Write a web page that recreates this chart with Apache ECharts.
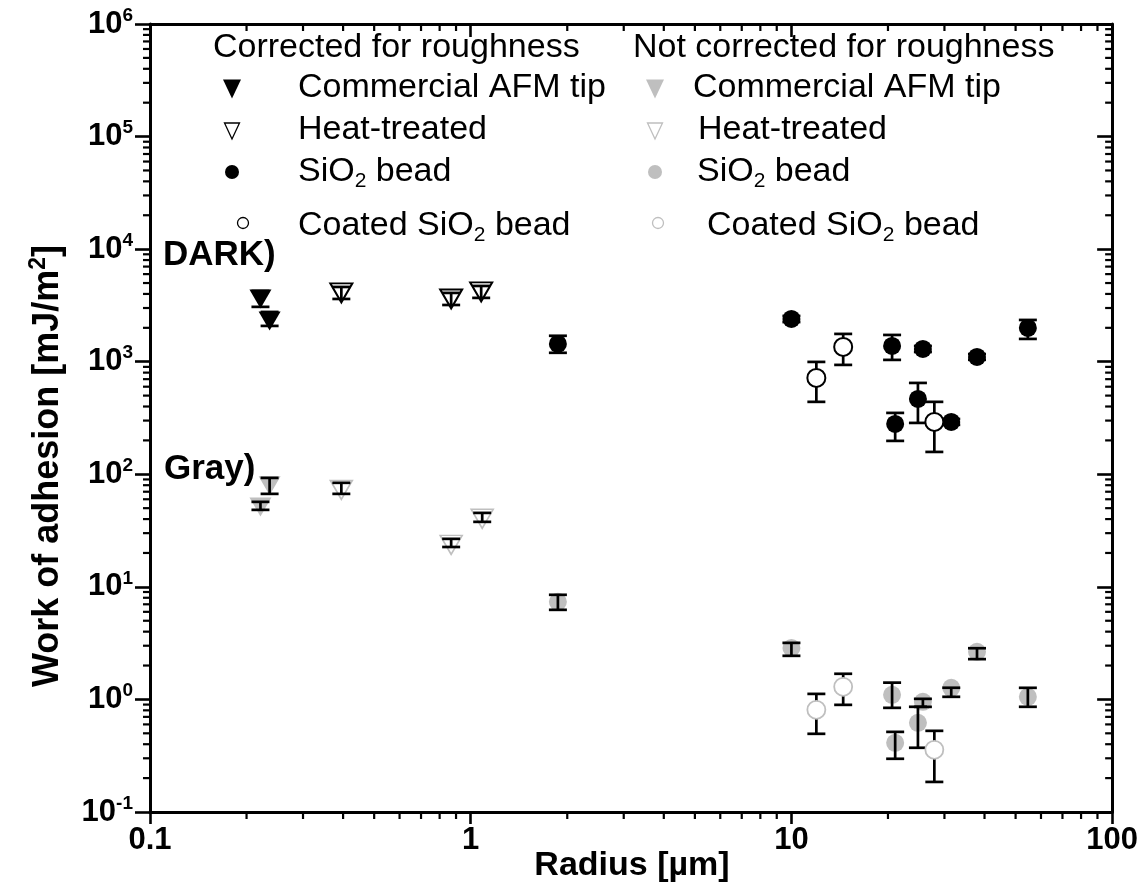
<!DOCTYPE html>
<html><head><meta charset="utf-8">
<script src="https://cdn.jsdelivr.net/npm/echarts@6/dist/echarts.min.js"></script>
<style>html,body{margin:0;padding:0;background:#fff}#c{width:1141px;height:892px}</style>
</head><body><div id="c"></div>
<script>
// ---- data: [radius (µm), work of adhesion (mJ/m²), error low, error high] ----
const corrAfm    = [[0.221, 3610, 3071, 4254], [0.236, 2303, 2080, 2768]];
const corrHeat   = [[0.395, 4085, 3610, 4614], [0.869, 3610, 3191, 4085], [1.078, 4170, 3690, 4710]];
const corrSiO2   = [[1.87, 1439, 1200, 1700], [10.0, 2399, 2250, 2550], [20.6, 1381, 1038, 1729],
                    [25.7, 1300, 1220, 1380], [37.9, 1103, 1040, 1170], [54.6, 1995, 1594, 2350],
                    [21.06, 280, 198, 351], [24.8, 467, 286, 648], [31.5, 292, 275, 310]];
const corrCoated = [[11.96, 718, 440, 996], [14.5, 1353, 937, 1766], [27.9, 292, 158, 440]];
const rawAfm     = [[0.221, 51.3, 48.3, 56.9], [0.236, 78.9, 67, 92.9]];
const rawHeat    = [[0.395, 72.7, 67, 84], [0.869, 23.6, 22.6, 26.7], [1.086, 40.2, 37.8, 45.4]];
const rawSiO2    = [[1.87, 7.36, 6.25, 8.5], [10.0, 2.87, 2.44, 3.18], [20.6, 1.099, 0.842, 1.41],
                    [25.7, 0.952, 0.859, 1.012], [37.9, 2.65, 2.28, 2.85], [54.6, 1.055, 0.86, 1.268],
                    [21.06, 0.412, 0.297, 0.515], [24.8, 0.62, 0.372, 0.86], [31.5, 1.268, 1.055, 1.27]];
const rawCoated  = [[11.96, 0.809, 0.495, 1.12], [14.5, 1.294, 0.895, 1.69], [27.9, 0.357, 0.185, 0.526]];

const xTicks = [0.1, 1, 10, 100];
const xTickLabels = ['0.1', '1', '10', '100'];
const yTicks = [0.1, 1, 10, 100, 1000, 10000, 100000, 1000000];
const yTickExp = ['-1', '0', '1', '2', '3', '4', '5', '6'];
const minorMult = [2, 3, 4, 5, 6, 7, 8, 9];

const legendLeftTitle = 'Corrected for roughness';
const legendRightTitle = 'Not corrected for roughness';
const legendNames = ['Commercial AFM tip', 'Heat-treated', 'SiO{sub|2} bead', 'Coated SiO{sub|2} bead'];

const FONT = "'Liberation Sans', Arial, Helvetica, sans-serif";
const GRAY = '#bfbfbf';

const minorXs = [], minorYs = [];
for (let i = 0; i < xTicks.length - 1; i++) minorMult.forEach(m => minorXs.push([xTicks[i] * m, 1]));
for (let i = 0; i < yTicks.length - 1; i++) minorMult.forEach(m => minorYs.push([1, yTicks[i] * m]));

const chart = echarts.init(document.getElementById('c'), null, {renderer: 'canvas'});

function errRender(params, api) {
  const x = api.value(0), lo = api.value(2), hi = api.value(3);
  const a = api.coord([x, lo]), b = api.coord([x, hi]);
  const w = 9;
  const st = {stroke: '#000', lineWidth: 2.7, fill: null};
  return {type: 'group', children: [
    {type: 'line', shape: {x1: a[0], y1: a[1], x2: b[0], y2: b[1]}, style: st},
    {type: 'line', shape: {x1: a[0] - w, y1: a[1], x2: a[0] + w, y2: a[1]}, style: st},
    {type: 'line', shape: {x1: b[0] - w, y1: b[1], x2: b[0] + w, y2: b[1]}, style: st}
  ]};
}
function minorXRender(params, api) {
  const cs = params.coordSys;
  const p = api.coord([api.value(0), 1]);
  const st = {stroke: '#000', lineWidth: 2.2};
  const bot = cs.y + cs.height, top = cs.y;
  return {type: 'group', children: [
    {type: 'line', shape: {x1: p[0], y1: bot, x2: p[0], y2: bot + 7}, style: st},
    {type: 'line', shape: {x1: p[0], y1: top, x2: p[0], y2: top + 7}, style: st}
  ]};
}
function minorYRender(params, api) {
  const cs = params.coordSys;
  const p = api.coord([1, api.value(1)]);
  const st = {stroke: '#000', lineWidth: 2.2};
  const l = cs.x, r = cs.x + cs.width;
  return {type: 'group', children: [
    {type: 'line', shape: {x1: l - 7, y1: p[1], x2: l, y2: p[1]}, style: st},
    {type: 'line', shape: {x1: r - 7, y1: p[1], x2: r, y2: p[1]}, style: st}
  ]};
}

function scatter(name, data, symbol, size, itemStyle, z) {
  return {type: 'scatter', name, data: data.map(d => [d[0], d[1]]), symbol, symbolSize: size,
    symbolRotate: symbol === 'triangle' ? 180 : 0, itemStyle: Object.assign({opacity: 1}, itemStyle), z, silent: true};
}
function errSeries(name, data, z) {
  return {type: 'custom', name: name + ' err', data, renderItem: errRender, z, silent: true,
    encode: {x: 0, y: [1, 2, 3]}};
}

const triSize = [22, 19];
const series = [
  scatter('Corrected: Commercial AFM tip', corrAfm, 'triangle', triSize, {color: '#000'}, 2),
  scatter('Corrected: Heat-treated', corrHeat, 'triangle', triSize, {color: '#fff', borderColor: '#000', borderWidth: 2}, 2),
  scatter('Corrected: SiO2 bead', corrSiO2, 'circle', 18, {color: '#000'}, 2),
  scatter('Corrected: Coated SiO2 bead', corrCoated, 'circle', 18, {color: '#fff', borderColor: '#000', borderWidth: 2}, 4),
  scatter('Not corrected: Commercial AFM tip', rawAfm, 'triangle', triSize, {color: GRAY}, 2),
  scatter('Not corrected: Heat-treated', rawHeat, 'triangle', triSize, {color: '#fff', borderColor: GRAY, borderWidth: 1.6}, 2),
  scatter('Not corrected: SiO2 bead', rawSiO2, 'circle', 18, {color: GRAY}, 2),
  scatter('Not corrected: Coated SiO2 bead', rawCoated, 'circle', 18, {color: '#fff', borderColor: GRAY, borderWidth: 1.8}, 4),
  errSeries('a', corrAfm, 3), errSeries('b', corrHeat, 3), errSeries('c', corrSiO2, 3), errSeries('d', corrCoated, 3),
  errSeries('e', rawAfm, 3), errSeries('f', rawHeat, 3), errSeries('g', rawSiO2, 3), errSeries('h', rawCoated, 3),
  {type: 'custom', name: 'minorX', data: minorXs, renderItem: minorXRender, z: 5, silent: true, clip: false, encode: {x: 0, y: 1}},
  {type: 'custom', name: 'minorY', data: minorYs, renderItem: minorYRender, z: 5, silent: true, clip: false, encode: {x: 0, y: 1}}
];

const axisLine = {show: true, onZero: false, lineStyle: {color: '#000', width: 3}};
const option = {
  animation: false,
  backgroundColor: '#fff',
  grid: {left: 150, right: 27, top: 24, bottom: 80, containLabel: false},
  xAxis: [
    {type: 'log', logBase: 10, min: 0.1, max: 100, position: 'bottom', axisLine,
     axisTick: {show: true, length: 12, lineStyle: {color: '#000', width: 2.6}},
     splitLine: {show: false},
     axisLabel: {margin: 13, color: '#000', fontFamily: FONT, fontWeight: 'bold', fontSize: 31,
       formatter: v => { const i = xTicks.findIndex(t => Math.abs(Math.log10(t) - Math.log10(v)) < 1e-6); return i >= 0 ? xTickLabels[i] : ''; }}},
    {type: 'log', logBase: 10, min: 0.1, max: 100, position: 'top', axisLine,
     axisTick: {show: true, inside: true, length: 13, lineStyle: {color: '#000', width: 2.6}},
     axisLabel: {show: false}, splitLine: {show: false}}
  ],
  yAxis: [
    {type: 'log', logBase: 10, min: 0.1, max: 1000000, splitNumber: 7, position: 'left', axisLine,
     axisTick: {show: true, length: 15, lineStyle: {color: '#000', width: 2.6}},
     splitLine: {show: false},
     axisLabel: {margin: 17, color: '#000', fontFamily: FONT, fontWeight: 'bold', fontSize: 31,
       formatter: v => { const i = yTicks.findIndex(t => Math.abs(Math.log10(t) - Math.log10(v)) < 1e-6); return i >= 0 ? '10{sup|' + yTickExp[i] + '}' : ''; },
       rich: {sup: {fontFamily: FONT, fontWeight: 'bold', fontSize: 19, color: '#000', padding: [0, 0, 17, 0]}}}},
    {type: 'log', logBase: 10, min: 0.1, max: 1000000, splitNumber: 7, position: 'right', axisLine,
     axisTick: {show: true, inside: true, length: 15, lineStyle: {color: '#000', width: 2.6}},
     axisLabel: {show: false}, splitLine: {show: false}}
  ],
  series: series.map(s => Object.assign({xAxisIndex: 0, yAxisIndex: 0}, s)),
  graphic: []
};

const g = option.graphic;
const txt = (x, y, text, extra) => g.push(Object.assign({type: 'text', x, y, silent: true,
  style: Object.assign({text, fill: '#000', font: '34px ' + FONT, verticalAlign: 'middle',
    rich: {sub: {fontFamily: FONT, fontSize: 21, padding: [18, 0, 0, 0], fill: 'inherit'}}}, extra || {})}));

// axis titles
g.push({type: 'text', x: 48, y: 466, rotation: Math.PI / 2, silent: true,
  style: {text: 'Work of adhesion [mJ/m{sup|2}]', fill: '#000', font: 'bold 36px ' + FONT,
    align: 'center', verticalAlign: 'middle',
    rich: {sup: {fontFamily: FONT, fontWeight: 'bold', fontSize: 23, padding: [0, 0, 18, 0]}}}});
g.push({type: 'text', x: 632, y: 866, silent: true,
  style: {text: 'Radius [µm]', fill: '#000', font: 'bold 34px ' + FONT, align: 'center', verticalAlign: 'middle'}});

// group labels
txt(163, 255, 'DARK)', {font: 'bold 35px ' + FONT});
txt(164, 469, 'Gray)', {font: 'bold 35px ' + FONT});

// legend titles
txt(213, 48, legendLeftTitle);
txt(633, 48, legendRightTitle);
// legend rows
const rowsY = [88, 130, 172, 226];
const leftTextX = [298, 298, 298, 298];
const rightTextX = [693, 698, 697, 707];
legendNames.forEach((n, i) => { txt(leftTextX[i], rowsY[i], n); txt(rightTextX[i], rowsY[i], n); });

// legend symbols
const tri = (cx, cy, w, h, fill, stroke, lw) => g.push({type: 'polygon', silent: true,
  shape: {points: [[cx - w / 2, cy - h / 2], [cx + w / 2, cy - h / 2], [cx, cy + h / 2]]},
  style: {fill, stroke, lineWidth: lw}});
const circ = (cx, cy, r, fill, stroke, lw) => g.push({type: 'circle', silent: true,
  shape: {cx, cy, r}, style: {fill, stroke, lineWidth: lw}});
tri(232, 89, 18, 19, '#000', null, 0);
tri(232, 131, 15, 16, '#fff', '#000', 1.3);
circ(232, 172, 7, '#000', null, 0);
circ(243, 223, 5.5, '#fff', '#000', 1.3);
tri(655, 89, 18, 19, GRAY, null, 0);
tri(655, 131, 15, 16, '#fff', GRAY, 1.3);
circ(655, 172, 7, GRAY, null, 0);
circ(658, 223, 5.5, '#fff', GRAY, 1.3);

chart.setOption(option);
</script></body></html>
